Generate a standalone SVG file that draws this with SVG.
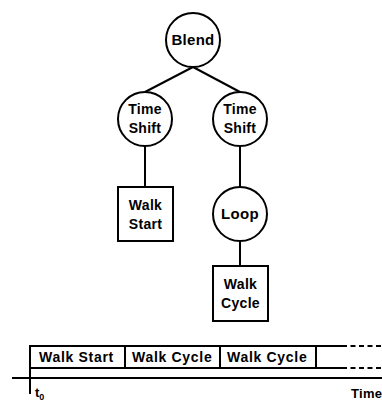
<svg xmlns="http://www.w3.org/2000/svg" width="382" height="403" viewBox="0 0 382 403">
<style>
.n{fill:#fff;stroke:#000;stroke-width:2}
.c{stroke:#000;stroke-width:2;fill:none}
.t{font-family:"Liberation Sans",Arial,sans-serif;font-weight:bold;font-size:14px;fill:#000;text-anchor:middle;letter-spacing:0.3px}
.tl{font-family:"Liberation Sans",Arial,sans-serif;font-weight:bold;font-size:14px;fill:#000;letter-spacing:0.7px}
.d{stroke:#000;stroke-width:2;fill:none;stroke-dasharray:5 3.5}
</style>
<rect width="382" height="403" fill="#fff"/>
<g id="connectors">
<line class="c" x1="193" y1="67" x2="145" y2="92"/>
<line class="c" x1="193" y1="67" x2="240" y2="92"/>
<line class="c" x1="145" y1="146" x2="145" y2="187"/>
<line class="c" x1="240" y1="146" x2="240" y2="187"/>
<line class="c" x1="240" y1="241" x2="240" y2="266"/>
</g>
<g id="blend">
<circle class="n" cx="193" cy="40" r="27"/>
<text class="t" x="193" y="45" style="font-size:15px">Blend</text>
</g>
<g id="timeshift1">
<circle class="n" cx="145" cy="119" r="27"/>
<text class="t" x="145" y="114">Time</text>
<text class="t" x="145" y="133">Shift</text>
</g>
<g id="timeshift2">
<circle class="n" cx="240" cy="119" r="27"/>
<text class="t" x="240" y="114">Time</text>
<text class="t" x="240" y="133">Shift</text>
</g>
<g id="walkstart">
<rect class="n" x="118" y="187" width="55" height="54"/>
<text class="t" x="145.5" y="210">Walk</text>
<text class="t" x="145.5" y="229">Start</text>
</g>
<g id="loop">
<circle class="n" cx="240" cy="214" r="27"/>
<text class="t" x="240" y="219" style="font-size:15px">Loop</text>
</g>
<g id="walkcycle">
<rect class="n" x="213" y="266" width="55" height="55"/>
<text class="t" x="240.5" y="289">Walk</text>
<text class="t" x="240.5" y="308">Cycle</text>
</g>
<g id="timeline">
<line class="c" x1="29" y1="346" x2="342" y2="346"/>
<line class="c" x1="30" y1="368" x2="342" y2="368"/>
<line class="d" x1="342" y1="346" x2="382" y2="346"/>
<line class="d" x1="342" y1="368" x2="382" y2="368"/>
<line class="c" x1="125" y1="346" x2="125" y2="368"/>
<line class="c" x1="220" y1="346" x2="220" y2="368"/>
<line class="c" x1="316" y1="346" x2="316" y2="368"/>
<line class="c" x1="30" y1="345" x2="30" y2="394"/>
<line class="c" x1="12" y1="378" x2="382" y2="378"/>
<text class="tl" x="39" y="362">Walk Start</text>
<text class="tl" x="132" y="362">Walk Cycle</text>
<text class="tl" x="227" y="362">Walk Cycle</text>
<text class="tl" x="351" y="398" style="font-size:13px;letter-spacing:0.3px">Time</text>
<text class="tl" x="35" y="397" style="font-size:13px;letter-spacing:0">t<tspan font-size="9" dy="3">0</tspan></text>
</g>
</svg>
